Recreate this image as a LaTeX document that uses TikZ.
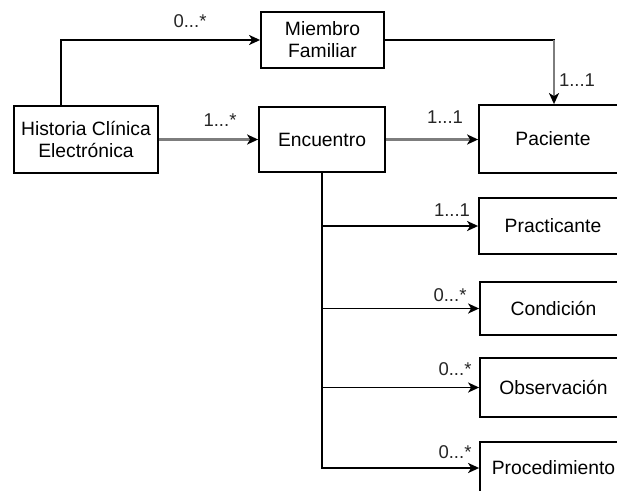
\documentclass[tikz,border=0pt]{standalone}
\usepackage{fontspec}
\setmainfont{Liberation Sans}
\usetikzlibrary{arrows.meta}
\definecolor{edgegray}{RGB}{125,125,125}
\tikzset{
  box/.style={draw=black, line width=1.8pt, fill=white, inner sep=0pt, align=center,
    font=\fontsize{19.3}{22}\selectfont},
  lbl/.style={inner sep=0pt, font=\fontsize{18.5}{20}\selectfont, text=black!85},
  arr/.style={draw=black, line width=1.8pt, -{Stealth[length=11pt,width=10pt,inset=3pt,black]}},
  plain/.style={draw=black, line width=1.8pt},
  garr/.style={draw=edgegray, line width=2.8pt, -{Stealth[length=11pt,width=10pt,inset=3pt,black]}}
}
\begin{document}
\begin{tikzpicture}[x=1pt,y=-1pt]
\useasboundingbox (0,0) rectangle (617,490);
\node[box, minimum width=144pt, minimum height=67pt] (hist) at (86,139.5) {Historia Clínica\\Electrónica};
\node[box, minimum width=123pt, minimum height=56pt] (miem) at (322.5,40) {Miembro\\Familiar};
\node[box, minimum width=126pt, minimum height=65pt] (enc) at (322,139.5) {Encuentro};
\node[box, minimum width=148pt, minimum height=68pt] (pac) at (553,139) {Paciente};
\node[box, minimum width=148pt, minimum height=56pt] (prac) at (553,226) {Practicante};
\node[box, minimum width=147pt, minimum height=53pt] (cond) at (553.5,308.5) {Condición};
\node[box, minimum width=147pt, minimum height=59pt] (obs) at (553.5,387.5) {Observación};
\node[box, minimum width=147pt, minimum height=52pt] (proc) at (553.5,468) {Procedimiento};

\coordinate (corner) at ([xshift=1pt]pac.north |- miem.east);
\draw[arr] ([xshift=48pt]hist.north west) |- (miem.west);
\draw[garr] (hist.east |- enc.west) -- (enc.west);
\draw[garr] (enc.east) -- (enc.east -| pac.west);
\draw[plain] (miem.east) -- ([xshift=0.9pt]corner);
\draw[garr] (corner) -- ([xshift=1pt]pac.north);
\draw[arr] (enc.south) |- (prac.west);
\draw[arr] (enc.south) |- (cond.west);
\draw[arr] (enc.south) |- (obs.west);
\draw[arr] (enc.south) |- (proc.west);

\node[lbl] (l1) at (190,21) {0...*};
\node[lbl] (l2) at (220,120) {1...*};
\node[lbl] (l3) at (445,117) {1...1};
\node[lbl] (l4) at (577,80) {1...1};
\node[lbl] (l5) at (452,210) {1...1};
\node[lbl] (l6) at (450,295) {0...*};
\node[lbl] (l7) at (455,369) {0...*};
\node[lbl] (l8) at (455,452) {0...*};
\end{tikzpicture}
\end{document}
